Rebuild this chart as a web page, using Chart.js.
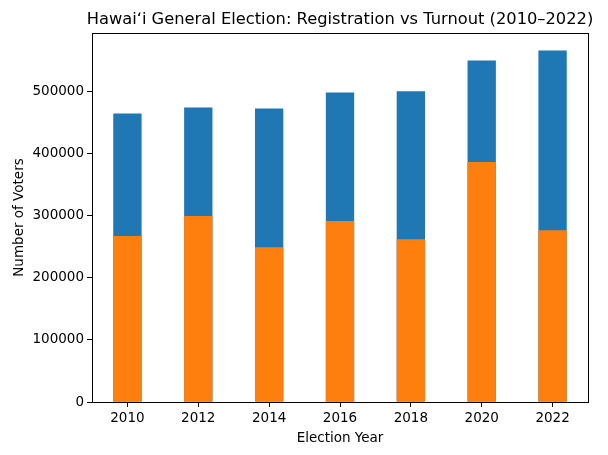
<!DOCTYPE html>
<html>
<head>
<meta charset="utf-8">
<script src="https://cdn.jsdelivr.net/npm/chart.js@4"></script>
<style>
  html, body { margin: 0; padding: 0; background: #fff; }
  canvas { display: block; }
</style>
</head>
<body>
<canvas id="myChart" width="608" height="455"></canvas>
<script>
// values
var years = ['2010', '2012', '2014', '2016', '2018', '2020', '2022'];
var registered = [464600, 474300, 472700, 498400, 500500, 549800, 565900];
var turnout = [267400, 299500, 249200, 291500, 262100, 386300, 276500];
var yTicks = [0, 100000, 200000, 300000, 400000, 500000];
var titleText = 'Hawaiʻi General Election: Registration vs Turnout (2010–2022)';

Chart.defaults.font.family = "'DejaVu Sans', sans-serif";
Chart.defaults.color = '#000';

// full black box round the plot and the title centred over it, like matplotlib
var frame = {
    id: 'frame',
    afterDatasetsDraw: function (chart) {
        var a = chart.chartArea;
        var c = chart.ctx;
        c.save();
        c.strokeStyle = '#000';
        c.lineWidth = 1;
        c.strokeRect(Math.round(a.left) + 0.5, Math.round(a.top) + 0.5,
            Math.round(a.right - a.left), Math.round(a.bottom - a.top));
        c.fillStyle = '#000';
        c.font = "16.3px 'DejaVu Sans', sans-serif";
        c.textAlign = 'center';
        c.textBaseline = 'alphabetic';
        c.fillText(titleText, (a.left + a.right) / 2, a.top - 9);
        c.restore();
    }
};

var ctx = document.getElementById('myChart');

var data = {
    labels: years,
    datasets: [
        {
            label: 'Turnout',
            data: turnout,
            backgroundColor: '#ff7f0e',
            borderWidth: 0,
            order: 0,
            barPercentage: 0.4,
            categoryPercentage: 1.0
        },
        {
            label: 'Registered',
            data: registered,
            backgroundColor: '#1f77b4',
            borderWidth: 0,
            order: 1,
            barPercentage: 0.4,
            categoryPercentage: 1.0
        }
    ]
};

var chart = new Chart(ctx, {
    type: 'bar',
    data: data,
    plugins: [frame],
    options: {
        responsive: false,
        animation: false,
        devicePixelRatio: 1,
        layout: { padding: { left: 11, right: 20, top: 33, bottom: 8 } },
        plugins: {
            legend: { display: false },
            tooltip: { enabled: false },
            title: { display: false }
        },
        scales: {
            x: {
                stacked: true,
                grid: { display: true, offset: false, drawOnChartArea: false, drawTicks: true, tickLength: 5, color: '#000' },
                border: { display: true, color: '#000' },
                ticks: { font: { size: 13.5 }, padding: 3, maxRotation: 0 },
                title: { display: true, text: 'Election Year', font: { size: 13.5 }, padding: { top: 2, bottom: 0 } },
                afterFit: function (scale) { scale.height = 45; }
            },
            y: {
                stacked: false,
                min: 0,
                max: 594200,
                grid: { display: true, drawOnChartArea: false, drawTicks: true, tickLength: 5, color: '#000' },
                border: { display: true, color: '#000' },
                ticks: {
                    font: { size: 13.5 },
                    padding: 3,
                    callback: function (v) { return String(v); }
                },
                afterBuildTicks: function (scale) {
                    scale.ticks = yTicks.map(function (v) { return { value: v }; });
                },
                title: { display: true, text: 'Number of Voters', font: { size: 13.5 }, padding: { top: 0, bottom: 0 } },
                afterFit: function (scale) { scale.width = 81; }
            }
        }
    }
});
</script>
</body>
</html>
